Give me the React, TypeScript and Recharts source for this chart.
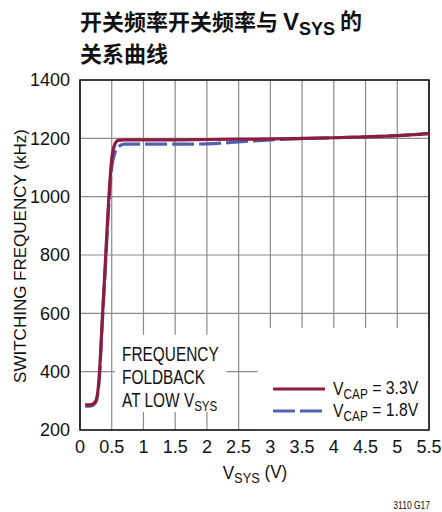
import React from 'react';
import { LineChart, Line, XAxis, YAxis, CartesianGrid, ReferenceArea } from 'recharts';

// V_SYS sweep (V) and switching frequency (kHz) for the two V_CAP settings
const vsys = [0.08, 0.18, 0.25, 0.3, 0.35, 0.4, 0.45, 0.5, 0.55, 0.6, 0.7, 1, 1.5, 2, 2.5, 3, 3.5, 4, 4.5, 5, 5.5];
const fswVcap33 = [286, 287, 300, 375, 575, 775, 980, 1130, 1180, 1193, 1195, 1195, 1195, 1196, 1197, 1198, 1200, 1202, 1205, 1209, 1216];
const fswVcap18 = [282, 283, 296, 365, 560, 760, 960, 1100, 1150, 1170, 1180, 1180, 1180, 1181, 1188, 1195, 1199, 1202, 1205, 1209, 1217];

const xTicks = [0, 0.5, 1, 1.5, 2, 2.5, 3, 3.5, 4, 4.5, 5, 5.5];
const yTicks = [200, 400, 600, 800, 1000, 1200, 1400];

const RED = '#8c1d40';
const BLUE = '#5161ad';
const NARROW = '"Liberation Sans Narrow", "Liberation Sans", Arial, sans-serif';
const CJK = '"Noto Sans CJK SC", "Noto Sans", sans-serif';

const data = vsys.map((v, i) => ({ v, a: fswVcap33[i], b: fswVcap18[i] }));

const Sub = ({ children }: { children: React.ReactNode }) => (
  <tspan fontSize="0.75em" dy="0.25em">{children}</tspan>
);

// condensed text: squeeze horizontally around the anchor point
const Cond = ({ x, y, sx = 0.82, children, ...rest }: any) => (
  <text transform={`translate(${x} ${y}) scale(${sx} 1)`} {...rest}>
    {children}
  </text>
);

export default function App() {
  return (
    <div style={{ position: 'absolute', left: 0, top: 0, width: 442, height: 512, background: '#fff' }}>
      <LineChart
        width={442}
        height={512}
        data={data}
        margin={{ top: 80, right: 13, bottom: 52, left: 20 }}
      >
        <CartesianGrid stroke="#8a8a8a" strokeWidth={1.2} />
        <XAxis
          dataKey="v"
          type="number"
          domain={[0, 5.5]}
          ticks={xTicks}
          axisLine={false}
          tickLine={false}
          height={30}
          tick={{ fontFamily: NARROW, fontSize: 18, fill: '#111' }}
          tickMargin={4}
        />
        <YAxis
          type="number"
          domain={[200, 1400]}
          ticks={yTicks}
          axisLine={false}
          tickLine={false}
          width={60}
          tick={{ fontFamily: NARROW, fontSize: 18, fill: '#111' }}
          tickMargin={4}
        />
        {/* white panels behind the note and the legend */}
        <ReferenceArea x1={0.55} x2={2.31} y1={262} y2={527} fill="#fff" fillOpacity={1} stroke="none" />
        <ReferenceArea x1={2.8} x2={5.5} y1={200} y2={550} fill="#fff" fillOpacity={1} stroke="none" />
        <ReferenceArea x1={0} x2={5.5} y1={200} y2={1400} fill="none" stroke="#111" strokeWidth={1.6} />
        <Line
          dataKey="b"
          type="monotone"
          stroke={BLUE}
          strokeWidth={3.2}
          strokeDasharray="22 5"
          dot={false}
          isAnimationActive={false}
        />
        <Line
          dataKey="a"
          type="monotone"
          stroke={RED}
          strokeWidth={3.2}
          dot={false}
          isAnimationActive={false}
        />
      </LineChart>

      {/* titles, axis caption, note and legend on top of the plot */}
      <svg
        width={442}
        height={512}
        style={{ position: 'absolute', left: 0, top: 0, pointerEvents: 'none' }}
      >
        <text
          x={20}
          y={256}
          transform="rotate(-90 20 256)"
          textAnchor="middle"
          dominantBaseline="central"
          fontFamily={NARROW}
          fontSize={17}
          fill="#111"
        >
          SWITCHING FREQUENCY (kHz)
        </text>
        <Cond x={255} y={479} sx={0.9} textAnchor="middle" fontFamily={NARROW} fontSize={19} fill="#111">
          V<Sub>SYS</Sub><tspan dy="-0.25em"> (V)</tspan>
        </Cond>
        <g fontFamily={NARROW} fontSize={19.5} fill="#111">
          <Cond x={122} y={361} sx={0.79}>FREQUENCY</Cond>
          <Cond x={122} y={384} sx={0.79}>FOLDBACK</Cond>
          <Cond x={122} y={407} sx={0.79}>AT LOW V<Sub>SYS</Sub></Cond>
        </g>
        <line x1={273} x2={325} y1={389} y2={389} stroke={RED} strokeWidth={3.2} />
        <line x1={273} x2={325} y1={411} y2={411} stroke={BLUE} strokeWidth={3.2} strokeDasharray="22 5" />
        <g fontFamily={NARROW} fontSize={19} fill="#111">
          <Cond x={333} y={395} sx={0.83}>V<Sub>CAP</Sub><tspan dy="-0.25em"> = 3.3V</tspan></Cond>
          <Cond x={333} y={417} sx={0.83}>V<Sub>CAP</Sub><tspan dy="-0.25em"> = 1.8V</tspan></Cond>
        </g>
        <g fontFamily={CJK} fontWeight={700} fontSize={22} fill="#111">
          <text x={80} y={30}>
            开关频率开关频率与 <tspan fontFamily={NARROW} fontSize={24}>V<Sub>SYS</Sub></tspan><tspan dy="-0.25em"> 的</tspan>
          </text>
          <text x={80} y={62}>关系曲线</text>
        </g>
        <Cond x={430} y={509} sx={0.85} textAnchor="end" fontFamily={NARROW} fontSize={10} fill="#111">
          3110 G17
        </Cond>
      </svg>
    </div>
  );
}
